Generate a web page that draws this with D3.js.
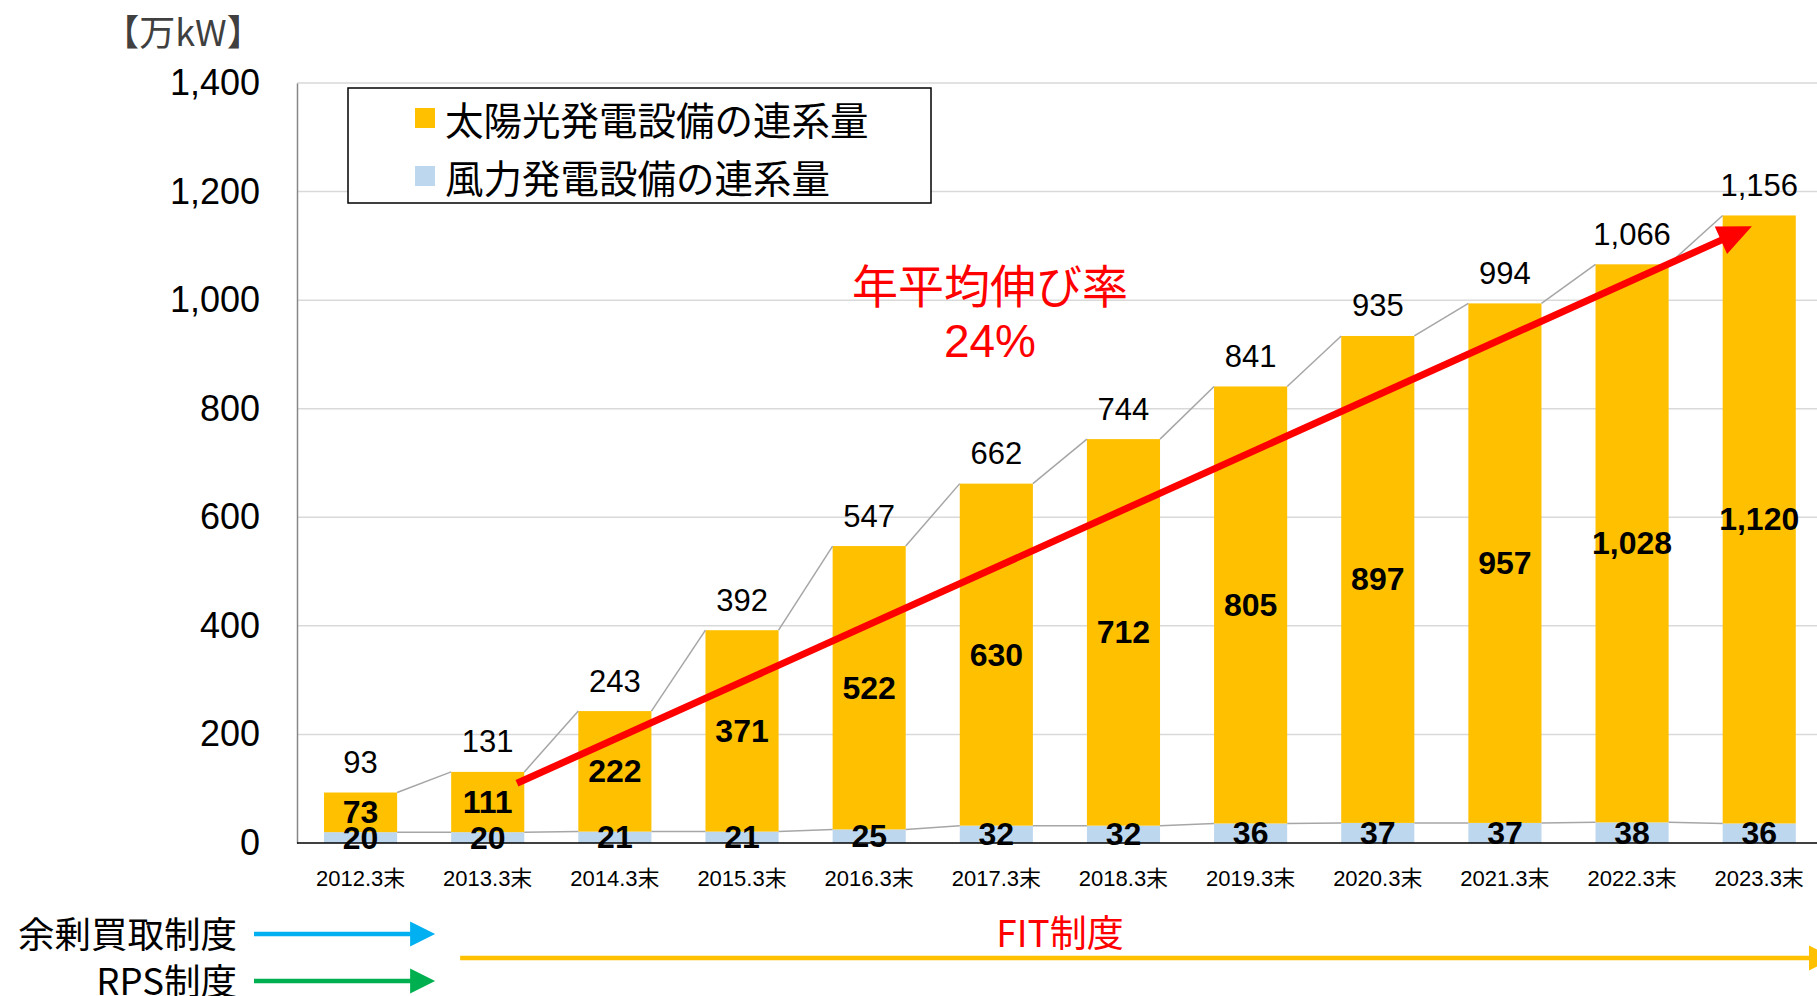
<!DOCTYPE html>
<html lang="ja">

<head>
	<meta charset="utf-8">
	<script src='https://d3js.org/d3.v7.min.js'></script>
	<style>
		body { margin: 0; background: #fff; }
		svg { display: block; }
	</style>
</head>

<body>
	<script>
    // data (万kW)
    const categories = ["2012.3末","2013.3末","2014.3末","2015.3末","2016.3末","2017.3末","2018.3末","2019.3末","2020.3末","2021.3末","2022.3末","2023.3末"];
    const wind  = [20, 20, 21, 21, 25, 32, 32, 36, 37, 37, 38, 36];
    const solar = [73, 111, 222, 371, 522, 630, 712, 805, 897, 957, 1028, 1120];
    const totals = [93, 131, 243, 392, 547, 662, 744, 841, 935, 994, 1066, 1156];
    const yTicks = [0, 200, 400, 600, 800, 1000, 1200, 1400];
    const legendLabels = ["太陽光発電設備の連系量", "風力発電設備の連系量"];
    const colors = ["#FFC000", "#BDD7EE"];
    // growth arrow: [category, fraction across band, value]
    const growthArrow = [["2013.3末", 0.9, 110], ["2023.3末", 0.4, 1136]];
    const growthText = ["年平均伸び率", "24%"];

    const W = 1817, H = 996;
    const plotLeft = 297, step = 127.15, plotTop = 83, plotBottom = 843;
    const latin = "'Liberation Sans', Arial, 'Noto Sans CJK JP', sans-serif";
    const jp = "'Noto Sans CJK JP', sans-serif";

    const svg = d3.select("body").append("svg")
      .attr("width", W).attr("height", H);

    const x = d3.scaleBand()
      .domain(categories)
      .range([plotLeft, plotLeft + step * categories.length])
      .paddingInner(0.425).paddingOuter(0.2125);
    const y = d3.scaleLinear().domain([0, 1400]).range([plotBottom, plotTop]);
    const bw = x.bandwidth();

    // gridlines
    svg.append("g").selectAll("line")
      .data(yTicks.slice(1)).enter().append("line")
      .attr("x1", plotLeft).attr("x2", W)
      .attr("y1", d => y(d)).attr("y2", d => y(d))
      .attr("stroke", "#D9D9D9").attr("stroke-width", 1.5);

    // stacked bars
    const rows = categories.map((c, i) => ({ cat: c, wind: wind[i], solar: solar[i] }));
    const stacked = d3.stack().keys(["wind", "solar"])(rows);
    const barColor = { wind: colors[1], solar: colors[0] };

    svg.append("g").selectAll("g")
      .data(stacked).enter().append("g")
      .attr("fill", d => barColor[d.key])
      .selectAll("rect")
      .data(d => d).enter().append("rect")
      .attr("x", d => x(d.data.cat))
      .attr("width", bw)
      .attr("y", d => y(d[1]))
      .attr("height", d => y(d[0]) - y(d[1]));

    // series lines between bars
    stacked.forEach(s => {
      const segs = d3.pairs(s);
      svg.append("g").selectAll("line")
        .data(segs).enter().append("line")
        .attr("x1", d => x(d[0].data.cat) + bw)
        .attr("y1", d => y(d[0][1]))
        .attr("x2", d => x(d[1].data.cat))
        .attr("y2", d => y(d[1][1]))
        .attr("stroke", "#A6A6A6").attr("stroke-width", 1.5);
    });

    // y axis
    const yAxis = svg.append("g")
      .attr("transform", `translate(${plotLeft},0)`)
      .call(d3.axisLeft(y).tickValues(yTicks).tickSize(0).tickPadding(37).tickFormat(d3.format(",")));
    yAxis.select(".domain").attr("stroke", "#868686").attr("stroke-width", 1.5);
    yAxis.selectAll("text")
      .attr("font-family", latin).attr("font-size", 36).attr("fill", "#000");

    // x axis
    const xAxis = svg.append("g")
      .attr("transform", `translate(0,${plotBottom})`)
      .call(d3.axisBottom(x).tickSize(0).tickPadding(27));
    xAxis.select(".domain").attr("d", `M${plotLeft},0H${W}`).attr("stroke", "#000").attr("stroke-width", 1.5);
    xAxis.selectAll("text")
      .attr("font-family", latin).attr("font-size", 22).attr("fill", "#000");

    // unit label
    svg.append("text")
      .attr("x", 183).attr("y", 30)
      .attr("text-anchor", "middle").attr("dominant-baseline", "central")
      .attr("font-family", jp).attr("font-size", 36).attr("fill", "#404040")
      .text("【万kW】");

    // segment labels
    svg.append("g").selectAll("text")
      .data(stacked.flatMap(s => s.map(d => ({ cat: d.data.cat, v: d.data[s.key], mid: (d[0] + d[1]) / 2 }))))
      .enter().append("text")
      .attr("x", d => x(d.cat) + bw / 2)
      .attr("y", d => y(d.mid))
      .attr("text-anchor", "middle").attr("dominant-baseline", "central")
      .attr("font-family", latin).attr("font-size", 32).attr("font-weight", "bold")
      .attr("fill", "#000")
      .text(d => d3.format(",")(d.v));

    // total labels
    svg.append("g").selectAll("text")
      .data(totals).enter().append("text")
      .attr("x", (d, i) => x(categories[i]) + bw / 2)
      .attr("y", (d, i) => y(wind[i] + solar[i]) - 30)
      .attr("text-anchor", "middle").attr("dominant-baseline", "central")
      .attr("font-family", latin).attr("font-size", 31).attr("fill", "#000")
      .text(d => d3.format(",")(d));

    // arrow helper
    function arrow(g, x1, y1, x2, y2, color, width, headLen, headHalf) {
      const a = Math.atan2(y2 - y1, x2 - x1);
      const bx = x2 - headLen * Math.cos(a), by = y2 - headLen * Math.sin(a);
      g.append("line")
        .attr("x1", x1).attr("y1", y1).attr("x2", bx + Math.cos(a)).attr("y2", by + Math.sin(a))
        .attr("stroke", color).attr("stroke-width", width);
      const px = -Math.sin(a) * headHalf, py = Math.cos(a) * headHalf;
      g.append("path")
        .attr("d", `M${x2},${y2}L${bx + px},${by + py}L${bx - px},${by - py}Z`)
        .attr("fill", color);
    }
    const ga = growthArrow.map(([c, f, v]) => [x(c) + bw * f, y(v)]);
    arrow(svg.append("g"), ga[0][0], ga[0][1], ga[1][0], ga[1][1], "#FF0000", 7, 34, 15);

    svg.append("g").selectAll("text")
      .data(growthText).enter().append("text")
      .attr("x", 990).attr("y", (d, i) => 283 + i * 58)
      .attr("text-anchor", "middle").attr("dominant-baseline", "central")
      .attr("font-family", (d, i) => i ? latin : jp).attr("font-size", 46).attr("fill", "#FF0000")
      .text(d => d);

    // legend
    const lg = svg.append("g");
    lg.append("rect")
      .attr("x", 348).attr("y", 88).attr("width", 583).attr("height", 115)
      .attr("fill", "#fff").attr("stroke", "#000").attr("stroke-width", 1.5);
    legendLabels.forEach((t, i) => {
      const cy = 118 + i * 58;
      lg.append("rect").attr("x", 415).attr("y", cy - 10).attr("width", 20).attr("height", 20).attr("fill", colors[i]);
      lg.append("text").attr("x", 445).attr("y", cy)
        .attr("dominant-baseline", "central")
        .attr("font-family", jp).attr("font-size", 38.5).attr("fill", "#000")
        .text(t);
    });

    // scheme timeline
    const boundary = x(categories[0]) + step * (1 - 0.2125);
    const schemes = [
      { label: "余剰買取制度", color: "#00B0F0", y: 932 },
      { label: "RPS制度", color: "#00B050", y: 979 }
    ];
    const tl = svg.append("g");
    schemes.forEach(s => {
      tl.append("text").attr("x", 237).attr("y", s.y)
        .attr("text-anchor", "end").attr("dominant-baseline", "central")
        .attr("font-family", jp).attr("font-size", 36.5).attr("fill", "#000")
        .text(s.label);
      arrow(tl, 254, s.y + 2, boundary + 11, s.y + 2, s.color, 4.5, 25, 12.5);
    });
    arrow(tl, boundary + 36, 958, W + 17, 958, "#FFC000", 4.5, 25, 12.5);
    tl.append("text").attr("x", 1060).attr("y", 931)
      .attr("text-anchor", "middle").attr("dominant-baseline", "central")
      .attr("font-family", jp).attr("font-size", 37).attr("fill", "#FF0000")
      .text("FIT制度");
	</script>
</body>

</html>
